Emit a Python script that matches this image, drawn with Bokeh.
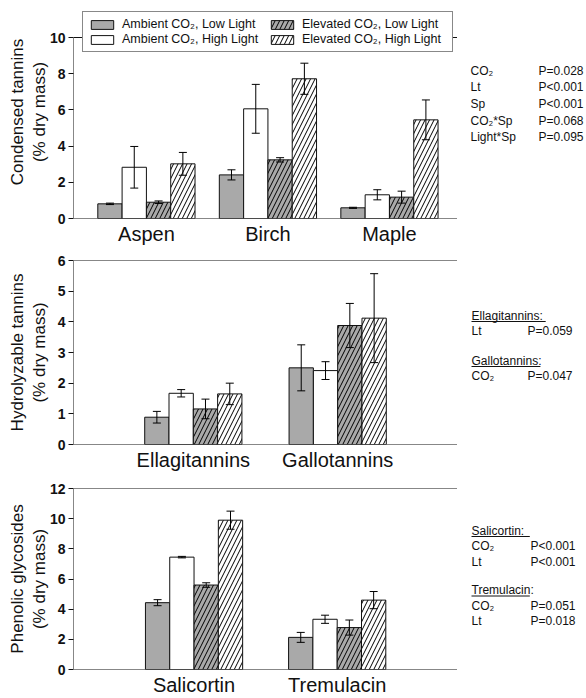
from bokeh.plotting import figure
from bokeh.layouts import column, row
from bokeh.models import (Range1d, FixedTicker, Whisker, TeeHead, ColumnDataSource,
                          Legend, LegendItem, Label, Arrow, LinearAxis)
from bokeh.embed import file_html
from bokeh.resources import INLINE

# ---------------- data ----------------
treatments = ["Ambient CO₂, Low Light", "Ambient CO₂, High Light",
              "Elevated CO₂, Low Light", "Elevated CO₂, High Light"]

# Condensed tannins (% dry mass)
ct_cats = ["Aspen", "Birch", "Maple"]
ct_amb_low = [0.81, 2.41, 0.59]
ct_amb_low_err = [0.04, 0.28, 0.03]
ct_amb_high = [2.83, 6.06, 1.31]
ct_amb_high_err = [1.15, 1.35, 0.28]
ct_elev_low = [0.90, 3.24, 1.18]
ct_elev_low_err = [0.07, 0.12, 0.33]
ct_elev_high = [3.02, 7.72, 5.45]
ct_elev_high_err = [0.63, 0.86, 1.10]
ct_terms = ["CO₂", "Lt", "Sp", "CO₂*Sp", "Light*Sp"]
ct_pvals = ["P=0.028", "P<0.001", "P<0.001", "P=0.068", "P=0.095"]

# Hydrolyzable tannins (% dry mass)
ht_cats = ["Ellagitannins", "Gallotannins"]
ht_amb_low = [0.89, 2.50]
ht_amb_low_err = [0.19, 0.75]
ht_amb_high = [1.67, 2.41]
ht_amb_high_err = [0.12, 0.29]
ht_elev_low = [1.16, 3.88]
ht_elev_low_err = [0.32, 0.72]
ht_elev_high = [1.65, 4.12]
ht_elev_high_err = [0.35, 1.45]
ht_stats = [("Ellagitannins:", [("Lt", "P=0.059")]),
            ("Gallotannins:", [("CO₂", "P=0.047")])]

# Phenolic glycosides (% dry mass)
pg_cats = ["Salicortin", "Tremulacin"]
pg_amb_low = [4.43, 2.13]
pg_amb_low_err = [0.20, 0.33]
pg_amb_high = [7.45, 3.33]
pg_amb_high_err = [0.05, 0.27]
pg_elev_low = [5.60, 2.78]
pg_elev_low_err = [0.15, 0.50]
pg_elev_high = [9.90, 4.60]
pg_elev_high_err = [0.60, 0.57]
pg_stats = [("Salicortin:", [("CO₂", "P<0.001"), ("Lt", "P<0.001")]),
            ("Tremulacin:", [("CO₂", "P=0.051"), ("Lt", "P=0.018")])]

# ---------------- style ----------------
FONT = "Liberation Sans"
LEFT = 73
BOX_W = 384                # width of the boxed plotting area in px
PW = LEFT + BOX_W          # width of each chart figure
SW = 586 - PW              # width of the statistics text figure
GRAY = "#a9a9a9"
FILLS = [GRAY, "white", GRAY, "white"]
HATCHED = [False, False, True, True]
XMAX = 15.8
INK = "#111111"


def seg(p, x0, y0, x1, y1):
    p.add_layout(Arrow(end=None, x_start=x0, y_start=y0, x_end=x1, y_end=y1,
                       line_color=INK, line_width=1))


def style_label_axis(ax, text, standoff):
    ax.axis_label = text
    ax.axis_label_text_font = FONT
    ax.axis_label_text_font_size = "17px"
    ax.axis_label_text_font_style = "normal"
    ax.axis_label_text_color = INK
    ax.axis_label_standoff = standoff


def make_panel(cats, vals, errs, starts, ymax, ystep, ylabel, height,
               frame_top, box_top, frame_bottom, inner_standoff):
    y_end = ymax * (frame_bottom - frame_top) / (frame_bottom - box_top)
    p = figure(width=PW, height=height, x_range=Range1d(0, XMAX), y_range=Range1d(0, y_end),
               output_backend="svg", toolbar_location=None,
               min_border_left=LEFT, min_border_right=0,
               min_border_top=frame_top, min_border_bottom=height - frame_bottom)
    p.xgrid.visible = False
    p.ygrid.visible = False
    p.outline_line_color = None
    p.background_fill_color = "white"
    p.border_fill_color = "white"

    rends = []
    for i in range(4):
        xs = [s + i + 0.5 for s in starts]
        up = [v + e for v, e in zip(vals[i], errs[i])]
        lo = [v - e for v, e in zip(vals[i], errs[i])]
        src = ColumnDataSource(dict(x=xs, top=vals[i], upper=up, lower=lo))
        kw = {}
        if HATCHED[i]:
            kw = dict(hatch_pattern="/", hatch_color="black", hatch_scale=9, hatch_weight=1)
        r = p.vbar(x="x", top="top", bottom=0, width=1, source=src,
                   fill_color=FILLS[i], line_color=INK, line_width=1, **kw)
        rends.append(r)
        wk = Whisker(base="x", upper="upper", lower="lower", source=src, dimension="height",
                     line_color="black", line_width=1, level="overlay",
                     upper_head=TeeHead(size=8, line_color="black", line_width=1),
                     lower_head=TeeHead(size=8, line_color="black", line_width=1))
        p.add_layout(wk)

    # box around the plotting area
    seg(p, 0, 0, XMAX, 0)
    seg(p, 0, 0, 0, ymax)
    seg(p, 0, ymax, XMAX, ymax)
    seg(p, XMAX, 0, XMAX, ymax)

    ya = p.yaxis[0]
    ya.ticker = FixedTicker(ticks=list(range(0, ymax + 1, ystep)))
    ya.major_label_text_font = FONT
    ya.major_label_text_font_size = "14px"
    ya.major_label_text_font_style = "bold"
    ya.major_label_text_color = INK
    ya.major_tick_out = 5
    ya.major_tick_in = 0
    ya.minor_tick_out = 0
    ya.minor_tick_in = 0
    ya.major_label_standoff = 3
    ya.axis_line_color = None
    ya.major_tick_line_color = INK
    style_label_axis(ya, ylabel[1], inner_standoff)

    outer = LinearAxis(ticker=FixedTicker(ticks=[]), axis_line_color=None,
                       major_tick_out=0, major_tick_in=0, minor_tick_out=0, minor_tick_in=0,
                       major_label_text_font_size="0px", major_label_standoff=0)
    style_label_axis(outer, ylabel[0], 0)
    p.add_layout(outer, "left")

    xa = p.xaxis[0]
    centers = [s + 2 for s in starts]
    xa.ticker = FixedTicker(ticks=centers)
    xa.major_label_overrides = {c: n for c, n in zip(centers, cats)}
    xa.major_label_text_font = FONT
    xa.major_label_text_font_size = "20px"
    xa.major_label_text_color = INK
    xa.major_tick_out = 0
    xa.major_tick_in = 0
    xa.minor_tick_out = 0
    xa.minor_tick_in = 0
    xa.major_label_standoff = 4
    xa.axis_line_color = None
    return p, rends


def make_side(height, frame_top, frame_bottom):
    s = figure(width=SW, height=height, x_range=Range1d(0, 1), y_range=Range1d(0, 1),
               output_backend="svg", toolbar_location=None,
               x_axis_type=None, y_axis_type=None,
               min_border_left=0, min_border_right=0,
               min_border_top=frame_top, min_border_bottom=height - frame_bottom)
    s.outline_line_color = None
    s.background_fill_color = "white"
    s.border_fill_color = "white"
    s.xgrid.visible = False
    s.ygrid.visible = False
    return s


def add_text(p, x, y, text):
    p.add_layout(Label(x=x, y=y, x_units="screen", y_units="screen", text=text,
                       text_font=FONT, text_font_size="12px", text_baseline="middle",
                       text_color=INK))


def add_header(p, x, y, text):
    add_text(p, x, y, text)
    p.add_layout(Arrow(end=None, x_start=x, y_start=y - 6, x_end=x + 5.3 * len(text),
                       y_end=y - 6, start_units="screen", end_units="screen",
                       line_color=INK, line_width=1))


# ---------------- panel 1 ----------------
p1, r1 = make_panel(ct_cats,
                    [ct_amb_low, ct_amb_high, ct_elev_low, ct_elev_high],
                    [ct_amb_low_err, ct_amb_high_err, ct_elev_low_err, ct_elev_high_err],
                    [1.0, 6.0, 11.0], 10, 2, ["Condensed tannins", "(% dry mass)"],
                    250, 5, 37, 218, -2)
leg = Legend(items=[LegendItem(label=t, renderers=[r]) for t, r in zip(treatments, r1)],
             location=(9, 166), nrows=2, orientation="vertical",
             label_text_font=FONT, label_text_font_size="12.5px", label_text_color=INK,
             glyph_width=28, glyph_height=11, label_standoff=6, label_width=145,
             label_height=14, spacing=1, padding=5, margin=0,
             border_line_color=INK, border_line_width=1,
             background_fill_color="white", background_fill_alpha=1)
p1.add_layout(leg)
s1 = make_side(250, 5, 218)
for k, (t, pv) in enumerate(zip(ct_terms, ct_pvals)):
    yy = 148 - 16.7 * k
    add_text(s1, 13, yy, t)
    add_text(s1, 81, yy, pv)

# ---------------- panel 2 ----------------
p2, _ = make_panel(ht_cats,
                   [ht_amb_low, ht_amb_high, ht_elev_low, ht_elev_high],
                   [ht_amb_low_err, ht_amb_high_err, ht_elev_low_err, ht_elev_high_err],
                   [2.93, 8.87], 6, 1, ["Hydrolyzable tannins", "(% dry mass)"],
                   224, 10, 10, 194, 6)
s2 = make_side(224, 10, 194)
yy = 129
for head, rows in ht_stats:
    add_header(s2, 14, yy, head)
    yy -= 15
    for t, pv in rows:
        add_text(s2, 14, yy, t)
        add_text(s2, 70, yy, pv)
        yy -= 15
    yy -= 15

# ---------------- panel 3 ----------------
p3, _ = make_panel(pg_cats,
                   [pg_amb_low, pg_amb_high, pg_elev_low, pg_elev_high],
                   [pg_amb_low_err, pg_amb_high_err, pg_elev_low_err, pg_elev_high_err],
                   [2.96, 8.85], 12, 2, ["Phenolic glycosides", "(% dry mass)"],
                   224, 14, 14, 197, -2)
s3 = make_side(224, 14, 197)
yy = 139
for head, rows in pg_stats:
    add_header(s3, 14, yy, head)
    yy -= 15.5
    for t, pv in rows:
        add_text(s3, 14, yy, t)
        add_text(s3, 73, yy, pv)
        yy -= 15.5
    yy -= 13

layout = column(row(p1, s1, spacing=0), row(p2, s2, spacing=0), row(p3, s3, spacing=0),
                spacing=0)
open("out.html", "w").write(file_html(layout, INLINE))
